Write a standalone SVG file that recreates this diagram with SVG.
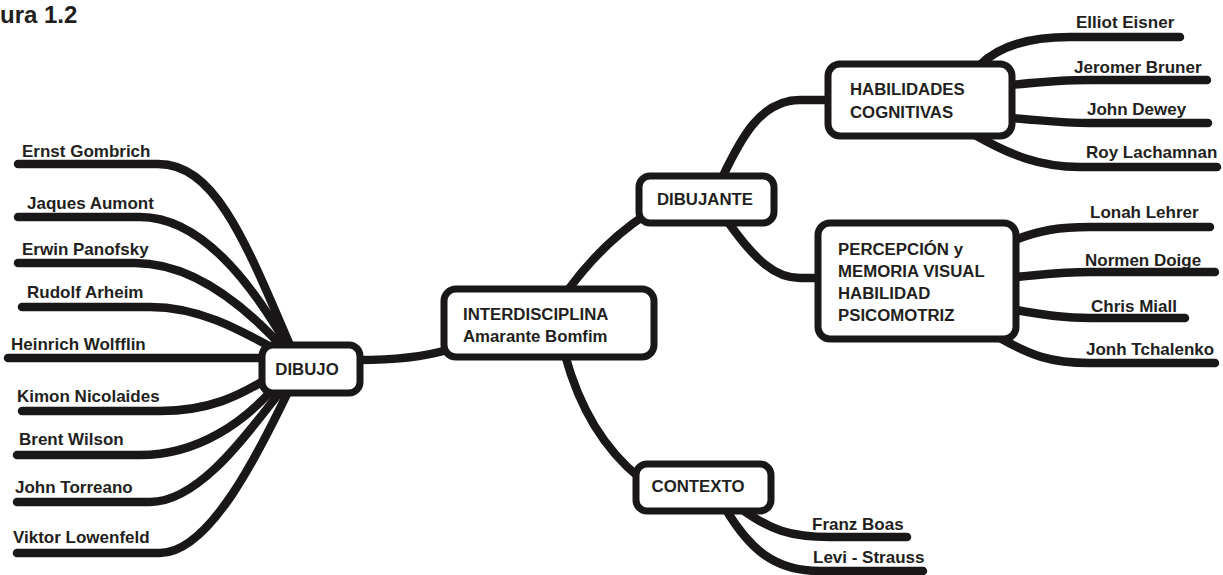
<svg xmlns="http://www.w3.org/2000/svg" width="1223" height="575" viewBox="0 0 1223 575">
<style>
.c{fill:none;stroke:#1a1718;stroke-width:8.5;stroke-linecap:round;stroke-linejoin:round}
.b{fill:#fff;stroke:#1a1718;stroke-width:7}
.t{font-family:"Liberation Sans",Arial,sans-serif;font-weight:bold;font-size:17px;fill:#231f20}
.n{font-family:"Liberation Sans",Arial,sans-serif;font-weight:bold;font-size:16.8px;fill:#231f20}
</style>
<rect width="1223" height="575" fill="#fff"/>
<text x="0" y="23" font-family="Liberation Sans, Arial, sans-serif" font-weight="bold" font-size="24" fill="#231f20">ura 1.2</text>
<g id="connectors">
<path class="c" d="M18,164 H158 C215,164 245,240 292,350"/>
<path class="c" d="M18,217 H140 C200,217 250,280 290,350"/>
<path class="c" d="M18,263 H135 C190,263 240,300 285,350"/>
<path class="c" d="M22,307 H150 C200,307 240,330 280,352"/>
<path class="c" d="M8,358 H265"/>
<path class="c" d="M22,411 H160 C210,411 240,395 265,380"/>
<path class="c" d="M17,455 H140 C200,455 245,420 272,390"/>
<path class="c" d="M17,502 H150 C200,502 250,430 280,392"/>
<path class="c" d="M17,553 H160 C210,553 260,450 288,392"/>
<path class="c" d="M358,360 C390,360 420,358 447,350"/>
<path class="c" d="M568,290 C590,260 615,235 645,215"/>
<path class="c" d="M565,355 C580,410 605,450 640,478"/>
<path class="c" d="M722,178 C740,140 760,100 800,100 H830"/>
<path class="c" d="M728,222 C755,260 775,278 800,278 H820"/>
<path class="c" d="M980,65 C1000,45 1030,37 1070,37 H1180"/>
<path class="c" d="M1010,85 C1040,82 1060,80 1090,80 H1207"/>
<path class="c" d="M1010,118 C1040,120 1060,123 1090,123 H1208"/>
<path class="c" d="M975,135 C1010,155 1040,167 1080,167 H1217"/>
<path class="c" d="M1015,240 C1040,230 1060,227 1090,227 H1210"/>
<path class="c" d="M1015,277 C1040,275 1060,272 1090,272 H1215"/>
<path class="c" d="M1015,310 C1040,314 1060,318 1090,318 H1185"/>
<path class="c" d="M1000,338 C1030,355 1050,363 1090,363 H1215"/>
<path class="c" d="M740,508 C770,530 790,537 830,537 H907"/>
<path class="c" d="M725,508 C750,550 775,571 820,571 H923"/>
</g>
<g id="dibujo"><rect class="b" x="262" y="345" width="98" height="48" rx="11"/><text class="n" x="307" y="375" text-anchor="middle">DIBUJO</text></g>
<g id="interdisciplina"><rect class="b" x="444" y="289" width="210" height="68" rx="12"/><text class="n" x="463" y="320">INTERDISCIPLINA</text><text class="n" x="463" y="342">Amarante Bomfim</text></g>
<g id="dibujante"><rect class="b" x="639" y="176" width="135" height="47" rx="11"/><text class="n" x="705" y="205" text-anchor="middle">DIBUJANTE</text></g>
<g id="contexto"><rect class="b" x="636" y="464" width="135" height="47" rx="11"/><text class="n" x="698" y="492" text-anchor="middle">CONTEXTO</text></g>
<g id="habilidades"><rect class="b" x="828" y="64" width="184" height="72" rx="12"/><text class="n" x="850" y="95">HABILIDADES</text><text class="n" x="850" y="118">COGNITIVAS</text></g>
<g id="percepcion"><rect class="b" x="818" y="223" width="198" height="116" rx="12"/><text class="n" x="838" y="255">PERCEPCIÓN y</text><text class="n" x="838" y="277">MEMORIA VISUAL</text><text class="n" x="838" y="299">HABILIDAD</text><text class="n" x="838" y="321">PSICOMOTRIZ</text></g>
<g id="leaves-dibujo">
<text class="t" x="22" y="157">Ernst Gombrich</text>
<text class="t" x="27" y="209">Jaques Aumont</text>
<text class="t" x="22" y="255">Erwin Panofsky</text>
<text class="t" x="27" y="298">Rudolf Arheim</text>
<text class="t" x="11" y="350">Heinrich Wolfflin</text>
<text class="t" x="17" y="402">Kimon Nicolaides</text>
<text class="t" x="19" y="445">Brent Wilson</text>
<text class="t" x="15" y="493">John Torreano</text>
<text class="t" x="13" y="543">Viktor Lowenfeld</text>
</g>
<g id="leaves-habilidades">
<text class="t" x="1076" y="28">Elliot Eisner</text>
<text class="t" x="1074" y="73">Jeromer Bruner</text>
<text class="t" x="1087" y="115">John Dewey</text>
<text class="t" x="1086" y="158">Roy Lachamnan</text>
</g>
<g id="leaves-percepcion">
<text class="t" x="1090" y="218">Lonah Lehrer</text>
<text class="t" x="1085" y="266">Normen Doige</text>
<text class="t" x="1091" y="312">Chris Miall</text>
<text class="t" x="1086" y="355">Jonh Tchalenko</text>
</g>
<g id="leaves-contexto">
<text class="t" x="812" y="530">Franz Boas</text>
<text class="t" x="813" y="563">Levi - Strauss</text>
</g>
</svg>
